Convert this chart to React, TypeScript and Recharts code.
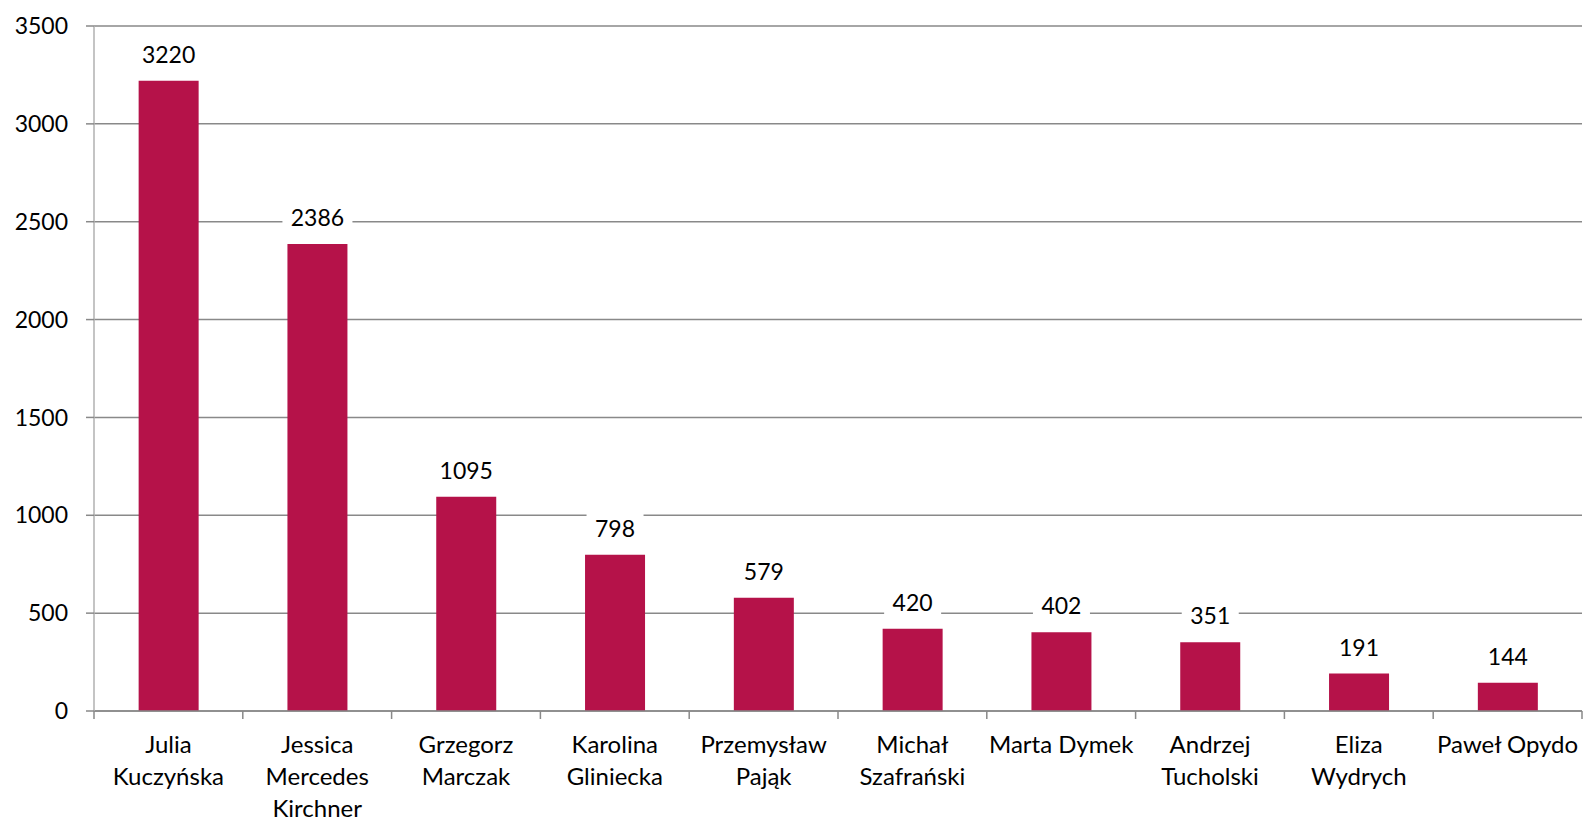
import React from 'react';
import { Bar, BarChart, CartesianGrid, LabelList, XAxis, YAxis } from 'recharts';

// category names, "\n" marks the line breaks as in the original
const names = [
  'Julia\nKuczyńska',
  'Jessica\nMercedes\nKirchner',
  'Grzegorz\nMarczak',
  'Karolina\nGliniecka',
  'Przemysław\nPająk',
  'Michał\nSzafrański',
  'Marta Dymek',
  'Andrzej\nTucholski',
  'Eliza\nWydrych',
  'Paweł Opydo',
];
const counts = [3220, 2386, 1095, 798, 579, 420, 402, 351, 191, 144];
const yTicks = [0, 500, 1000, 1500, 2000, 2500, 3000, 3500];

const data = names.map((name, i) => ({ name, value: counts[i] }));

const W = 1585;
const H = 821;
const M = { top: 26, right: 3, left: 0, bottom: 0 };
const Y_AXIS_W = 94;
const X_AXIS_H = 110;
const BAND = (W - M.left - M.right - Y_AXIS_W) / names.length;

const FONT = 'Lato, "Open Sans", sans-serif';
const GRID = '#898989';
const BAR = '#B51249';

function CategoryTick(props: any) {
  const { x, y, payload, index } = props;
  const lines = String(payload.value).split('\n');
  const left = x - BAND / 2;
  return (
    <g>
      <line x1={left} x2={left} y1={y} y2={y + 8} stroke={GRID} strokeWidth={1.5} />
      {index === names.length - 1 && (
        <line x1={x + BAND / 2} x2={x + BAND / 2} y1={y} y2={y + 8} stroke={GRID} strokeWidth={1.5} />
      )}
      <text x={x} y={y + 42} textAnchor="middle" fontSize={24} fontFamily={FONT} fill="#000">
        {lines.map((l, i) => (
          <tspan key={i} x={x} dy={i === 0 ? 0 : 32}>
            {l}
          </tspan>
        ))}
      </text>
    </g>
  );
}

function ValueLabel(props: any) {
  const { x, y, width, value } = props;
  const cx = x + width / 2;
  const cy = y - 27;
  const text = String(value);
  const boxW = text.length * 13 + 18;
  return (
    <g>
      <rect x={cx - boxW / 2} y={cy - 15} width={boxW} height={30} fill="#fff" />
      <text
        x={cx}
        y={cy}
        textAnchor="middle"
        dominantBaseline="central"
        fontSize={23}
        fontFamily={FONT}
        fill="#000"
      >
        {text}
      </text>
    </g>
  );
}

export default function App() {
  return (
    <div style={{ position: 'absolute', left: 0, top: 0, background: '#fff', fontFamily: FONT }}>
      <BarChart width={W} height={H} data={data} margin={M} barCategoryGap="30%">
        <CartesianGrid vertical={false} stroke={GRID} strokeWidth={1.5} />
        <XAxis
          dataKey="name"
          height={X_AXIS_H}
          interval={0}
          tickSize={0}
          tickMargin={0}
          axisLine={{ stroke: GRID, strokeWidth: 1.5 }}
          tickLine={false}
          tick={<CategoryTick />}
        />
        <YAxis
          width={Y_AXIS_W}
          domain={[0, 3500]}
          ticks={yTicks}
          interval={0}
          tickSize={8}
          tickMargin={18}
          axisLine={{ stroke: '#b0b0b0', strokeWidth: 1.5 }}
          tickLine={{ stroke: GRID, strokeWidth: 1.5 }}
          tick={{ fontSize: 23, fontFamily: FONT, fill: '#000' }}
        />
        <Bar dataKey="value" fill={BAR} isAnimationActive={false}>
          <LabelList dataKey="value" content={<ValueLabel />} />
        </Bar>
      </BarChart>
    </div>
  );
}
